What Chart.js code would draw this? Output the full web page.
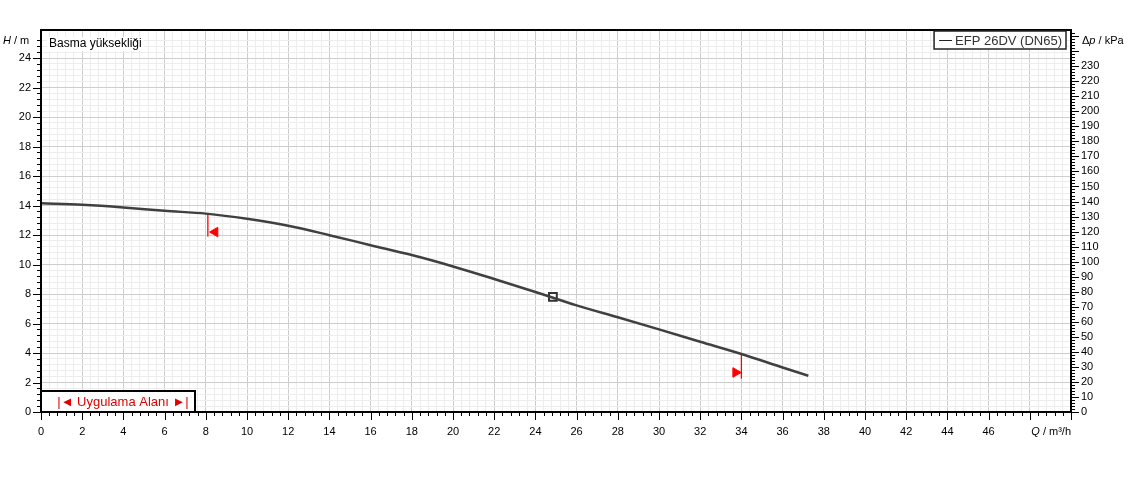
<!DOCTYPE html>
<html>
<head>
<meta charset="utf-8">
<script src="https://cdn.jsdelivr.net/npm/chart.js@4.4.1/dist/chart.umd.min.js"></script>
<style>
  body { margin: 0; background: #fff; }
  canvas { display: block; }
</style>
</head>
<body>
<canvas id="pumpChart" width="1129" height="478"></canvas>
<script>
// pump curve: Q in m³/h, H in m
const flowQ = [0, 2, 4, 6, 8, 10, 12, 14, 16, 18, 20, 22, 24, 26, 28, 30, 32, 34, 36, 37.25];
const headH = [14.16, 14.05, 13.87, 13.64, 13.45, 13.1, 12.63, 11.99, 11.31, 10.64, 9.87, 9.02, 8.14, 7.23, 6.42, 5.6, 4.76, 3.93, 3.02, 2.46];

// duty point
const dutyQ = [24.85];
const dutyH = [7.8];

// application range (Uygulama Alanı) limits
const rangeQ = [8.1, 34.0];
const rangeTopH = [13.43, 3.93];
const rangeBottomH = [11.9, 2.26];
const arrowQ = [8.45, 33.72];
const arrowH = [12.2, 2.68];

// tick labels
const xTickLabels = [0, 2, 4, 6, 8, 10, 12, 14, 16, 18, 20, 22, 24, 26, 28, 30, 32, 34, 36, 38, 40, 42, 44, 46];
const hTickLabels = [0, 2, 4, 6, 8, 10, 12, 14, 16, 18, 20, 22, 24];
const pTickLabels = [0, 10, 20, 30, 40, 50, 60, 70, 80, 90, 100, 110, 120, 130, 140, 150, 160, 170, 180, 190, 200, 210, 220, 230];

const qMax = 50;
const hMax = 25.9;
const rhoG = 9.81; // kPa per m

const onStep = (v, step) => Math.abs(v / step - Math.round(v / step)) < 1e-6;

Chart.defaults.font.family = '"Liberation Sans", Arial, sans-serif';
Chart.defaults.font.size = 11;
Chart.defaults.color = '#000';

function pts(xs, ys) {
  return xs.map((x, i) => ({ x: x, y: ys[i] }));
}

function gridColor(ctx) {
  const v = ctx.tick ? ctx.tick.value : 0;
  return onStep(v, 2) ? '#cdcdcd' : '#ededed';
}

const decor = {
  id: 'decor',
  afterDraw(chart) {
    const ctx = chart.ctx;
    const a = chart.chartArea;
    const xs = chart.scales.x, ys = chart.scales.y, ps = chart.scales.y2;

    ctx.save();
    // tick marks
    ctx.strokeStyle = '#000';
    ctx.lineWidth = 1;
    ctx.beginPath();
    xs.ticks.forEach(t => {
      if (!onStep(t.value, 0.4)) return;
      const px = Math.round(xs.getPixelForValue(t.value)) + 0.5;
      ctx.moveTo(px, a.bottom);
      ctx.lineTo(px, a.bottom + (onStep(t.value, 2) ? 8 : 4));
    });
    ys.ticks.forEach(t => {
      if (!onStep(t.value, 0.4)) return;
      const py = Math.round(ys.getPixelForValue(t.value)) + 0.5;
      ctx.moveTo(a.left, py);
      ctx.lineTo(a.left - (onStep(t.value, 2) ? 8 : 4), py);
    });
    ps.ticks.forEach(t => {
      if (!onStep(t.value, 2)) return;
      const py = Math.round(ps.getPixelForValue(t.value)) + 0.5;
      ctx.moveTo(a.right, py);
      ctx.lineTo(a.right + (onStep(t.value, 10) ? 8 : 4), py);
    });
    ctx.stroke();

    // frame
    ctx.lineWidth = 2;
    ctx.strokeRect(a.left, a.top, a.right - a.left, a.bottom - a.top);

    // "Basma yüksekliği"
    ctx.font = '12px "Liberation Sans", Arial, sans-serif';
    ctx.textBaseline = 'middle';
    ctx.textAlign = 'left';
    const bw = ctx.measureText('Basma yüksekliği').width;
    ctx.fillStyle = '#fff';
    ctx.fillRect(a.left + 6, a.top + 7, bw + 4, 14);
    ctx.fillStyle = '#000';
    ctx.fillText('Basma yüksekliği', a.left + 8, a.top + 14);

    // legend box
    ctx.font = '13px "Liberation Sans", Arial, sans-serif';
    const lt = 'EFP 26DV (DN65)';
    const lw = ctx.measureText(lt).width;
    const lx1 = a.right - 5, lx0 = lx1 - lw - 25;
    ctx.fillStyle = '#fff';
    ctx.fillRect(lx0, a.top + 1, lx1 - lx0, 18);
    ctx.lineWidth = 1.5;
    ctx.strokeStyle = '#222';
    ctx.strokeRect(lx0, a.top + 1, lx1 - lx0, 18);
    ctx.beginPath();
    ctx.moveTo(lx0 + 5, a.top + 10.5);
    ctx.lineTo(lx0 + 18, a.top + 10.5);
    ctx.lineWidth = 1;
    ctx.stroke();
    ctx.fillStyle = '#333';
    ctx.fillText(lt, lx0 + 21, a.top + 11);

    // application range box
    const bx0 = a.left, bx1 = a.left + 154, by0 = a.bottom - 21;
    ctx.fillStyle = '#fff';
    ctx.fillRect(bx0, by0, bx1 - bx0, a.bottom - by0);
    ctx.lineWidth = 2;
    ctx.strokeStyle = '#000';
    ctx.strokeRect(bx0, by0, bx1 - bx0, a.bottom - by0);
    ctx.fillStyle = '#e00000';
    ctx.font = '13px "Liberation Sans", Arial, sans-serif';
    ctx.textAlign = 'center';
    ctx.fillText('|◄ Uygulama Alanı ►|', a.left + 82, by0 + 11);

    // axis titles
    function title(parts, x, y, align) {
      const f = it => (it ? 'italic ' : '') + '11px "Liberation Sans", Arial, sans-serif';
      let total = 0;
      parts.forEach(p => { ctx.font = f(p[1]); total += ctx.measureText(p[0]).width; });
      let cx = align === 'right' ? x - total : x;
      ctx.textAlign = 'left';
      ctx.fillStyle = '#000';
      parts.forEach(p => {
        ctx.font = f(p[1]);
        ctx.fillText(p[0], cx, y);
        cx += ctx.measureText(p[0]).width;
      });
    }
    title([['H', true], [' / m', false]], 3, 41, 'left');
    title([['Δ', false], ['p', true], [' / kPa', false]], a.right + 11, 41, 'left');
    title([['Q', true], [' / m³/h', false]], a.right, 432, 'right');
    ctx.restore();
  }
};

new Chart(document.getElementById('pumpChart').getContext('2d'), {
  type: 'line',
  data: {
    datasets: [
      {
        label: 'EFP 26DV (DN65)',
        data: pts(flowQ, headH),
        borderColor: '#404040',
        borderWidth: 2.5,
        pointRadius: 0,
        cubicInterpolationMode: 'monotone',
        borderJoinStyle: 'round'
      },
      {
        data: pts([rangeQ[0], rangeQ[0]], [rangeTopH[0], rangeBottomH[0]]),
        borderColor: '#ff0000',
        borderWidth: 1.3,
        pointRadius: 0
      },
      {
        data: pts([rangeQ[1], rangeQ[1]], [rangeTopH[1], rangeBottomH[1]]),
        borderColor: '#ff0000',
        borderWidth: 1.3,
        pointRadius: 0
      },
      {
        data: pts(arrowQ, arrowH),
        showLine: false,
        pointStyle: 'triangle',
        pointRotation: [-90, 90],
        pointRadius: 5.5,
        pointBackgroundColor: '#ff0000',
        pointBorderColor: '#ff0000',
        pointBorderWidth: 1
      },
      {
        data: pts(dutyQ, dutyH),
        showLine: false,
        pointStyle: 'rect',
        pointRadius: 5.5,
        pointBackgroundColor: '#fff',
        pointBorderColor: '#333',
        pointBorderWidth: 2
      }
    ]
  },
  options: {
    responsive: false,
    animation: false,
    layout: { padding: { top: 30, left: 0, right: 0, bottom: 0 } },
    plugins: {
      legend: { display: false },
      tooltip: { enabled: false }
    },
    scales: {
      x: {
        type: 'linear',
        min: 0,
        max: qMax,
        afterFit: s => { s.height = 66; },
        border: { display: false },
        grid: { color: gridColor, drawTicks: false },
        ticks: {
          stepSize: 0.4,
          autoSkip: false,
          maxRotation: 0,
          padding: 13,
          callback: v => xTickLabels.includes(v) ? String(v) : ''
        }
      },
      y: {
        type: 'linear',
        position: 'left',
        min: 0,
        max: hMax,
        afterFit: s => { s.width = 41; },
        border: { display: false },
        grid: { color: gridColor, drawTicks: false },
        ticks: {
          stepSize: 0.4,
          autoSkip: false,
          padding: 10,
          callback: v => hTickLabels.includes(v) ? String(v) : ''
        }
      },
      y2: {
        type: 'linear',
        position: 'right',
        min: 0,
        max: hMax * rhoG,
        afterFit: s => { s.width = 58; },
        border: { display: false },
        grid: { display: false, drawTicks: false },
        ticks: {
          stepSize: 2,
          autoSkip: false,
          padding: 10,
          callback: v => pTickLabels.includes(v) ? String(v) : ''
        }
      }
    }
  },
  plugins: [decor]
});
</script>
</body>
</html>
